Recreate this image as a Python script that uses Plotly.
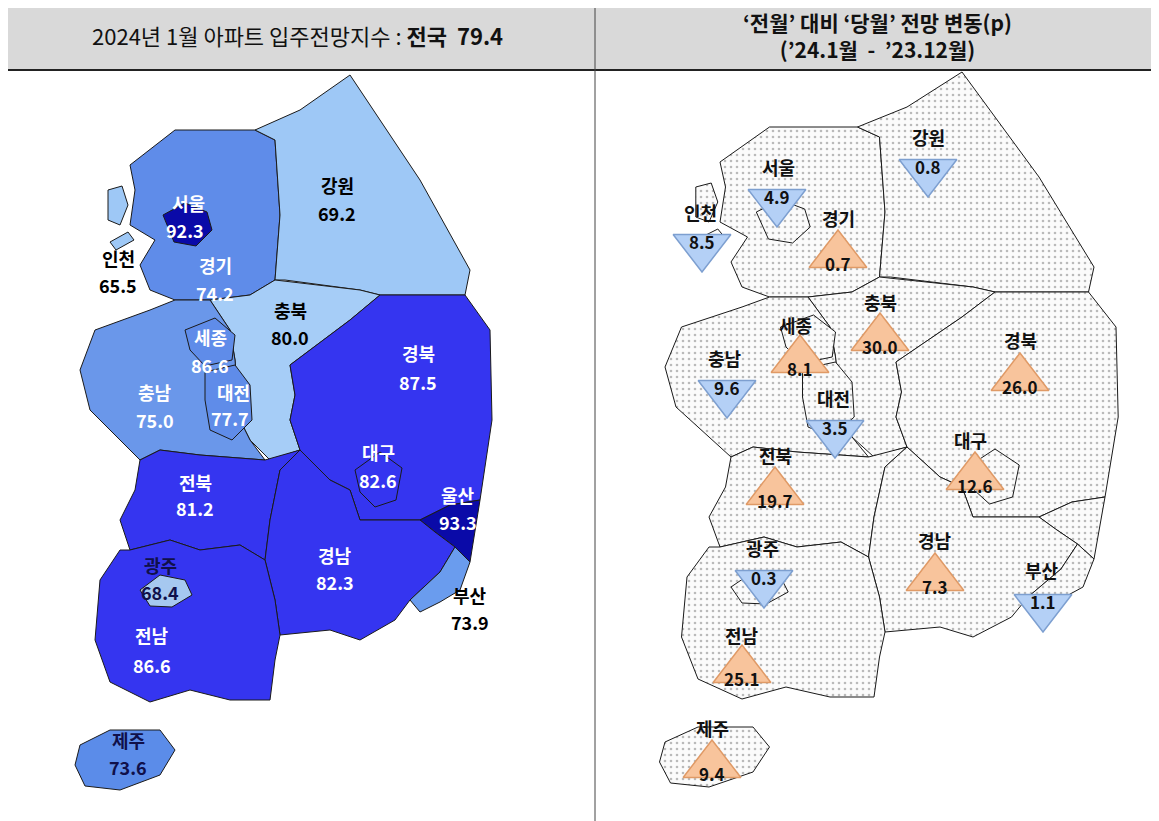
import plotly.graph_objects as go

FONT = "Noto Sans CJK KR"

# data
regions = ["서울", "인천", "경기", "강원", "충북", "세종", "대전", "충남", "경북", "대구",
           "울산", "전북", "경남", "광주", "부산", "전남", "제주"]
index_jan = [92.3, 65.5, 74.2, 69.2, 80.0, 86.6, 77.7, 75.0, 87.5, 82.6,
             93.3, 81.2, 82.3, 68.4, 73.9, 86.6, 73.6]
change_p = [-4.9, -8.5, 0.7, -0.8, 30.0, 8.1, -3.5, -9.6, 26.0, 12.6,
            None, 19.7, 7.3, -0.3, -1.1, 25.1, 9.4]
national = 79.4

# map fill colours (left map)
fill_left = {
    "서울": "#0a0aa8", "울산": "#0a0aa8", "인천": "#9ec8f6", "경기": "#5f8ce9",
    "강원": "#9ec8f6", "충북": "#a6cdf7", "세종": "#5f8ce9", "대전": "#5f8ce9",
    "충남": "#6a97ea", "경북": "#3535f0", "대구": "#3535f0", "전북": "#3535f0",
    "경남": "#3535f0", "광주": "#a6c8f0", "부산": "#6a9cee", "전남": "#3535f0",
    "제주": "#5b8ce9",
}

# rough region outlines (drawing geometry, left-map pixel frame)
shapes_geo = {
    "경기": [(130, 165), (175, 130), (255, 130), (275, 140), (280, 215), (275, 280), (250, 295),
             (210, 300), (175, 300), (150, 290), (140, 265), (155, 240), (130, 225), (135, 190)],
    "강원": [(255, 130), (300, 110), (350, 75), (380, 120), (420, 180), (470, 270), (465, 295),
             (380, 295), (360, 290), (285, 280), (275, 280), (280, 215), (275, 140)],
    "충북": [(275, 280), (360, 290), (380, 295), (350, 320), (290, 365), (295, 395), (290, 420),
             (300, 450), (270, 460), (250, 440), (240, 420), (235, 360), (230, 330), (210, 300),
             (250, 295)],
    "충남": [(95, 330), (150, 310), (175, 300), (210, 300), (230, 330), (235, 360), (240, 420),
             (250, 440), (265, 460), (200, 455), (160, 450), (140, 460), (120, 440), (90, 410),
             (80, 370)],
    "세종": [(185, 330), (215, 318), (235, 335), (232, 360), (205, 366), (190, 350)],
    "대전": [(205, 372), (235, 365), (250, 385), (252, 420), (232, 440), (210, 430), (205, 400)],
    "경북": [(380, 295), (465, 295), (490, 330), (492, 420), (480, 500), (450, 505), (420, 520),
             (360, 520), (350, 490), (330, 480), (300, 450), (290, 420), (295, 395), (290, 365),
             (350, 320)],
    "대구": [(355, 470), (380, 452), (402, 468), (396, 500), (375, 507), (360, 492)],
    "울산": [(450, 505), (480, 500), (470, 562), (455, 547), (435, 532), (420, 520)],
    "전북": [(140, 460), (160, 450), (200, 455), (265, 460), (300, 450), (280, 470), (270, 520),
             (265, 560), (240, 545), (200, 550), (170, 540), (130, 550), (120, 520), (135, 490)],
    "경남": [(300, 450), (330, 480), (350, 490), (360, 520), (420, 520), (435, 532), (455, 547),
             (440, 572), (410, 600), (395, 620), (360, 640), (330, 630), (280, 635), (275, 600),
             (265, 560), (270, 520), (280, 470)],
    "부산": [(455, 547), (470, 562), (460, 590), (440, 602), (420, 612), (410, 600), (440, 572)],
    "전남": [(120, 550), (130, 550), (170, 540), (200, 550), (240, 545), (265, 560), (275, 600),
             (280, 635), (275, 660), (270, 700), (230, 700), (190, 690), (150, 702), (110, 682),
             (95, 640), (100, 580)],
    "광주": [(140, 590), (160, 575), (185, 580), (192, 595), (172, 607), (150, 606)],
    "서울": [(163, 215), (185, 203), (207, 212), (212, 230), (196, 246), (174, 242)],
    "인천": [(108, 190), (122, 186), (128, 205), (120, 225), (108, 220)],
    "제주": [(80, 745), (110, 730), (160, 730), (175, 750), (160, 775), (120, 790), (85, 786),
             (75, 765)],
}

left_lab = {
    "서울": (188, 203, 185, 230, "white"), "인천": (118, 258, 118, 285, "black"),
    "경기": (215, 265, 215, 293, "white"), "강원": (337, 185, 337, 213, "black"),
    "충북": (290, 310, 290, 337, "black"), "세종": (210, 337, 210, 365, "white"),
    "대전": (233, 392, 230, 418, "white"), "충남": (155, 392, 155, 420, "white"),
    "경북": (418, 353, 418, 382, "white"), "대구": (378, 452, 378, 480, "white"),
    "울산": (458, 495, 458, 522, "white"), "전북": (195, 482, 195, 508, "white"),
    "경남": (335, 555, 335, 582, "white"), "광주": (160, 565, 160, 592, "#10104a"),
    "부산": (470, 595, 470, 622, "black"), "전남": (152, 635, 152, 665, "white"),
    "제주": (128, 740, 128, 767, "#10104a"),
}

# right map: name label position, triangle centre
right_lab = {
    "강원": (928, 137, 928, 172), "서울": (778, 167, 777, 202), "인천": (700, 212, 702, 247),
    "경기": (838, 218, 838, 255), "충북": (880, 302, 880, 338), "세종": (795, 325, 800, 360),
    "경북": (1020, 340, 1020, 378), "충남": (725, 358, 727, 393), "대전": (833, 398, 835, 433),
    "대구": (970, 440, 975, 477), "전북": (775, 455, 775, 492), "광주": (762, 548, 764, 583),
    "경남": (935, 540, 935, 578), "부산": (1042, 570, 1043, 607), "전남": (742, 635, 742, 670),
    "제주": (712, 728, 712, 765),
}


def to_right(pts):
    return [(665 + (x - 80) * 1.1, y - 3) for x, y in pts]


fig = go.Figure()

for name, pts in shapes_geo.items():
    for side in ("L", "R"):
        p = pts if side == "L" else to_right(pts)
        xs = [q[0] for q in p] + [p[0][0]]
        ys = [q[1] for q in p] + [p[0][1]]
        kw = dict(fillcolor=fill_left[name]) if side == "L" else dict(
            fillcolor="#fbfbfb",
            fillpattern=dict(shape=".", fgcolor="#7a7a7a", bgcolor="#fbfbfb", size=6, solidity=0.15))
        fig.add_trace(go.Scatter(x=xs, y=ys, mode="lines", fill="toself",
                                 line=dict(color="#1a1a1a", width=1), hoverinfo="skip",
                                 showlegend=False, **kw))
# second incheon island
for dx in (0, 1):
    isl = [(110, 242), (128, 232), (134, 240), (116, 250)]
    p = isl if dx == 0 else to_right(isl)
    fig.add_trace(go.Scatter(x=[q[0] for q in p] + [p[0][0]], y=[q[1] for q in p] + [p[0][1]],
                             mode="lines", fill="toself", showlegend=False, hoverinfo="skip",
                             fillcolor="#9ec8f6" if dx == 0 else "#fbfbfb",
                             line=dict(color="#1a1a1a", width=1)))

ann = []
for name, val in zip(regions, index_jan):
    nx, ny, vx, vy, col = left_lab[name]
    ann.append(dict(x=nx, y=ny, text=f"<b>{name}</b>", font=dict(size=18, color=col)))
    ann.append(dict(x=vx, y=vy, text=f"<b>{val:.1f}</b>", font=dict(size=18, color=col)))

for name, ch in zip(regions, change_p):
    if ch is None:
        continue
    nx, ny, tx, ty = right_lab[name]
    down = ch < 0
    fig.add_trace(go.Scatter(
        x=[tx], y=[ty], mode="markers", showlegend=False, hoverinfo="skip",
        marker=dict(symbol="triangle-down" if down else "triangle-up", size=50,
                    color="#b4d0f6" if down else "#f8c49c",
                    line=dict(color="#7d9fd0" if down else "#e09a66", width=1.5))))
    ann.append(dict(x=nx, y=ny, text=f"<b>{name}</b>", font=dict(size=18, color="#111")))
    ann.append(dict(x=tx, y=ty + (-6 if down else 8), text=f"<b>{abs(ch):.1f}</b>",
                    font=dict(size=17, color="#111")))

ann.append(dict(x=297, y=35, text=f"2024년 1월 아파트 입주전망지수 : <b>전국  {national}</b>",
                font=dict(size=22, color="#111")))
ann.append(dict(x=877, y=35, text="<b>‘전월’ 대비 ‘당월’ 전망 변동(p)<br>(’24.1월  -  ’23.12월)</b>",
                font=dict(size=21, color="#111")))
for a in ann:
    a.update(xref="x", yref="y", showarrow=False)
    a["font"]["family"] = FONT

# page body has an 8px margin, so the axes start at 8
fig.update_layout(
    width=1159, height=821, margin=dict(l=0, r=0, t=0, b=0),
    plot_bgcolor="white", paper_bgcolor="white", annotations=ann,
    xaxis=dict(range=[8, 1167], visible=False),
    yaxis=dict(range=[829, 8], visible=False),
    shapes=[
        dict(type="rect", xref="x", yref="y", x0=0, x1=1170, y0=0, y1=70,
             fillcolor="#d9d9d9", line=dict(width=0), layer="below"),
        dict(type="line", xref="x", yref="y", x0=0, x1=1170, y0=70, y1=70,
             line=dict(color="#222", width=2)),
        dict(type="line", xref="x", yref="y", x0=595, x1=595, y0=0, y1=830,
             line=dict(color="#444", width=1)),
    ],
)
fig.write_html("out.html")
